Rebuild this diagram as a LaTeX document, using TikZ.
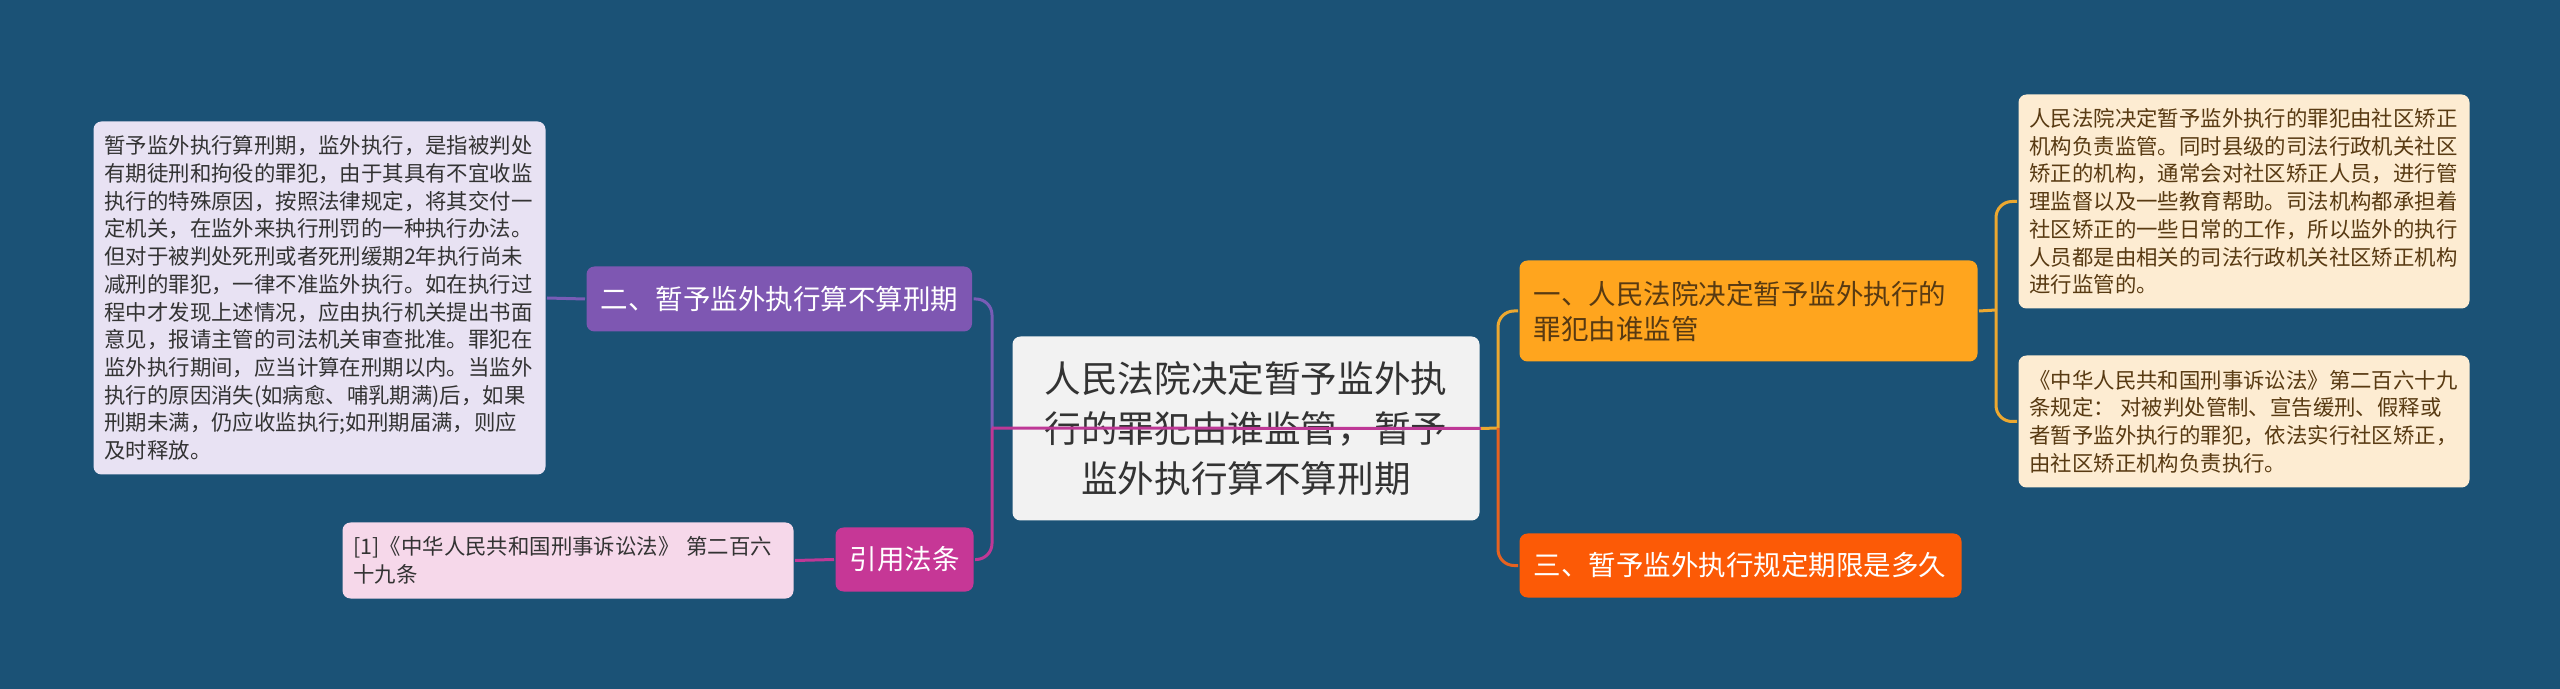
\documentclass[tikz,border=0pt]{standalone}
\usepackage{fontspec}
\setmainfont{Noto Sans CJK SC}
\usepackage{tikz}

\definecolor{bgblue}{RGB}{27,82,118}
\definecolor{lavender}{RGB}{232,226,243}
\definecolor{grape}{RGB}{126,87,178}
\definecolor{grapeline}{RGB}{120,92,182}
\definecolor{berry}{RGB}{198,55,150}
\definecolor{berryline}{RGB}{190,56,150}
\definecolor{blush}{RGB}{246,216,234}
\definecolor{paper}{RGB}{242,242,242}
\definecolor{amber}{RGB}{255,165,30}
\definecolor{amberline}{RGB}{236,168,48}
\definecolor{blaze}{RGB}{252,90,6}
\definecolor{blazeline}{RGB}{230,98,32}
\definecolor{cream}{RGB}{253,236,210}
\definecolor{inkgrey}{RGB}{51,51,51}
\definecolor{inkbrown}{RGB}{88,58,18}

\begin{document}
\begin{tikzpicture}[x=0.5pt,y=-0.5pt,line width=1.5pt,
	box/.style={rounded corners=4pt, anchor=north west, inner ysep=0pt},
	note/.style={box, align=left, inner xsep=5.5pt, text width=214.5pt,
		font=\fontsize{10.7pt}{13.85pt}\selectfont},
	topic/.style={box, inner xsep=7pt, font=\fontsize{13.75pt}{17.5pt}\selectfont}]
	\fill[bgblue] (0,0) rectangle (2560,689);
	\useasboundingbox (0,0) rectangle (2560,689);

	\node[box, fill=paper, text=inkgrey, align=center, minimum width=233.5pt, minimum height=92pt,
		font=\fontsize{18.3pt}{25pt}\selectfont] (root) at (1011,335)
		{人民法院决定暂予监外执\\行的罪犯由谁监管，暂予\\监外执行算不算刑期};

	\node[topic, fill=amber, text=inkbrown, align=left, text width=215pt, minimum height=50.5pt] (B1) at (1518,259)
		{一、人民法院决定暂予监外执行的\\罪犯由谁监管};
	\node[topic, fill=grape, text=white, minimum width=192.5pt, minimum height=32.5pt] (B2) at (585,265)
		{二、暂予监外执行算不算刑期};
	\node[topic, fill=blaze, text=white, align=left, text width=207pt, minimum height=32pt] (B3) at (1518,532)
		{三、暂予监外执行规定期限是多久};
	\node[topic, fill=berry, text=white, minimum width=68pt, minimum height=32pt] (B4) at (834,526)
		{引用法条};

	\node[note, fill=cream, text=inkbrown, minimum height=107pt] (R1) at (2017,93)
		{人民法院决定暂予监外执行的罪犯由社区矫正\\机构负责监管。同时县级的司法行政机关社区\\矫正的机构，通常会对社区矫正人员，进行管\\理监督以及一些教育帮助。司法机构都承担着\\社区矫正的一些日常的工作，所以监外的执行\\人员都是由相关的司法行政机关社区矫正机构\\进行监管的。};
	\node[note, fill=cream, text=inkbrown, minimum height=66pt] (R2) at (2017,354)
		{《中华人民共和国刑事诉讼法》第二百六十九\\条规定：\hspace{0.25em}对被判处管制、宣告缓刑、假释或\\者暂予监外执行的罪犯，依法实行社区矫正，\\由社区矫正机构负责执行。};
	\node[note, fill=lavender, text=inkgrey, text width=215pt, minimum height=176.5pt] (L2) at (92,120)
		{暂予监外执行算刑期，监外执行，是指被判处\\有期徒刑和拘役的罪犯，由于其具有不宜收监\\执行的特殊原因，按照法律规定，将其交付一\\定机关，在监外来执行刑罚的一种执行办法。\\但对于被判处死刑或者死刑缓期2年执行尚未\\减刑的罪犯，一律不准监外执行。如在执行过\\程中才发现上述情况，应由执行机关提出书面\\意见，报请主管的司法机关审查批准。罪犯在\\监外执行期间，应当计算在刑期以内。当监外\\执行的原因消失(如病愈、哺乳期满)后，如果\\刑期未满，仍应收监执行;如刑期届满，则应\\及时释放。};
	\node[note, fill=blush, text=inkgrey, minimum height=38pt] (L4) at (341,521)
		{[1]《中华人民共和国刑事诉讼法》 第二百六\\十九条};

	\coordinate (LT) at (992,428);
	\coordinate (RT) at (1498,428);
	\coordinate (QT) at (1996,310);

	\draw[grapeline] (L2.east) -- (B2.west);
	\draw[grapeline, rounded corners=8pt] (B2.east) -| (LT);
	\draw[berryline] (L4.east) -- (B4.west);
	\draw[berryline, rounded corners=8pt] (B4.east) -| (LT);
	\draw[berryline] (LT) -- (root.east);
	\draw[amberline] (root.east) -- (RT);
	\draw[amberline, rounded corners=8pt] (RT) |- (B1.west);
	\draw[blazeline, rounded corners=8pt] (RT) |- (B3.west);
	\draw[amberline] (B1.east) -- (QT);
	\draw[amberline, rounded corners=8pt] (QT) |- (R1.west);
	\draw[amberline, rounded corners=8pt] (QT) |- (R2.west);
\end{tikzpicture}
\end{document}
